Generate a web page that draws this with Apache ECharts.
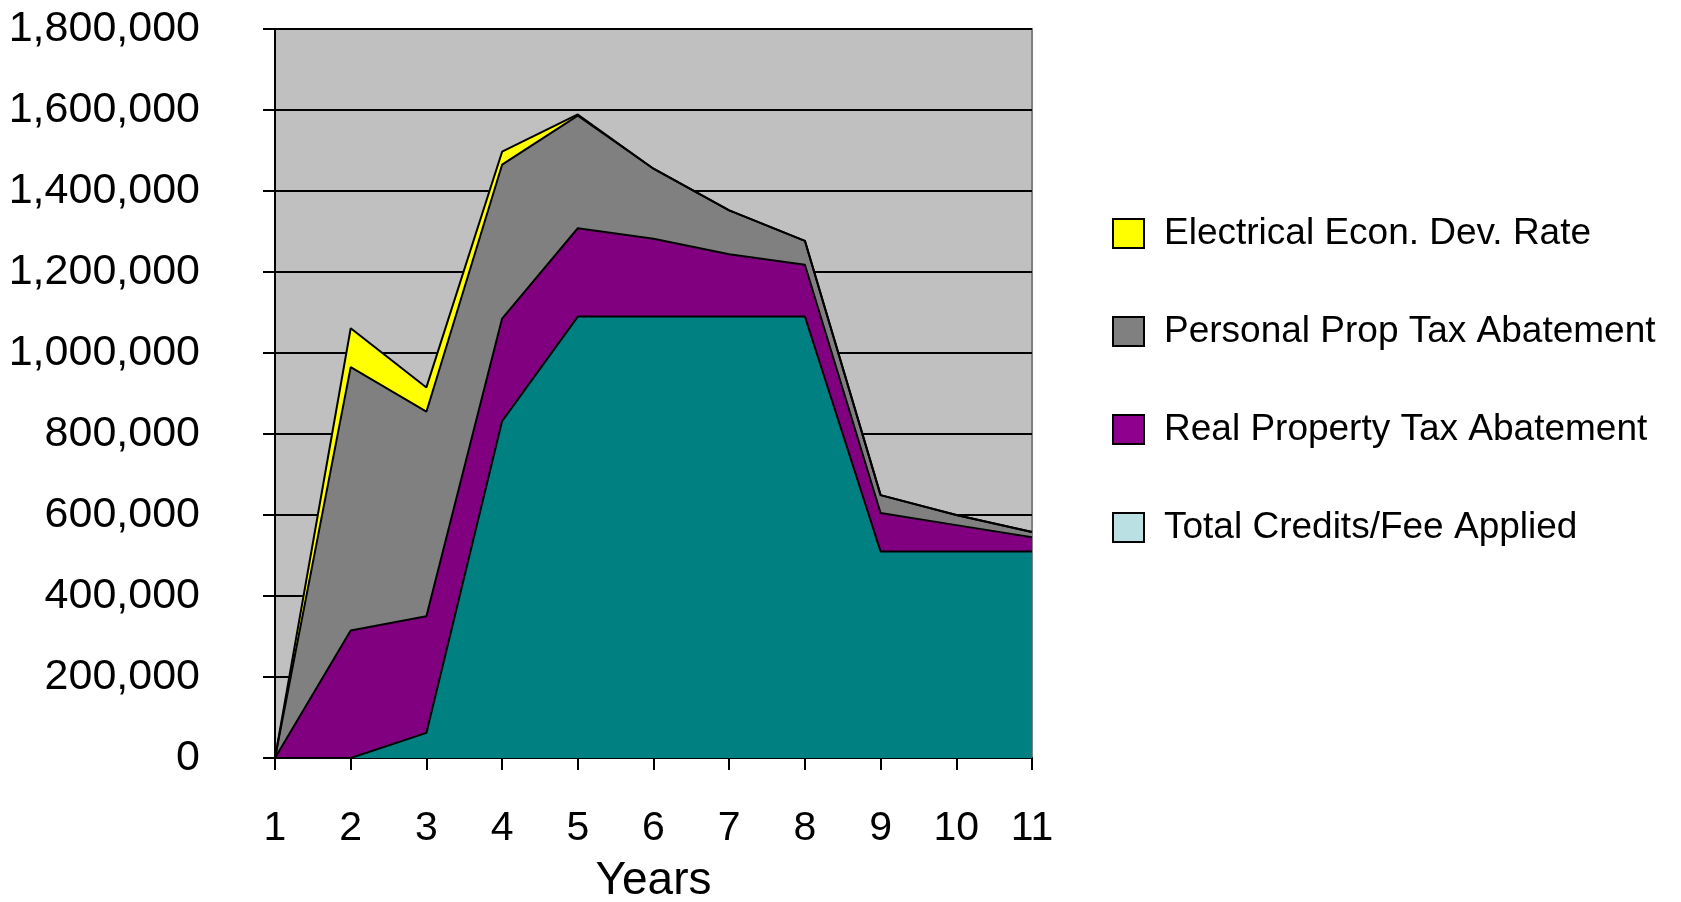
<!DOCTYPE html>
<html>
<head>
<meta charset="utf-8">
<script src="https://cdn.jsdelivr.net/npm/echarts@6/dist/echarts.min.js"></script>
<style>
html,body{margin:0;padding:0;background:#fff;}
#chart{width:1681px;height:902px;}
</style>
</head>
<body>
<div id="chart"></div>
<script>
const years = ['1','2','3','4','5','6','7','8','9','10','11'];
const totalCredits = [0, 0, 62000, 832000, 1090000, 1090000, 1090000, 1090000, 510000, 510000, 510000];
const realProperty = [0, 315000, 288000, 253000, 218000, 192000, 154000, 128000, 95000, 65000, 35000];
const personalProp = [0, 650000, 505000, 380000, 278000, 173000, 108000, 59000, 44000, 25000, 13000];
const electrical = [0, 96000, 60000, 32000, 3000, 0, 0, 0, 0, 0, 0];
const seriesNames = ['Total Credits/Fee Applied', 'Real Property Tax Abatement', 'Personal Prop Tax Abatement', 'Electrical Econ. Dev. Rate'];
const legendOrder = ['Electrical Econ. Dev. Rate', 'Personal Prop Tax Abatement', 'Real Property Tax Abatement', 'Total Credits/Fee Applied'];

const FONT = 'Liberation Sans, Arial, sans-serif';
const colors = {
  'Total Credits/Fee Applied': '#008080',
  'Real Property Tax Abatement': '#800080',
  'Personal Prop Tax Abatement': '#808080',
  'Electrical Econ. Dev. Rate': '#FFFF00'
};
const legendColors = {
  'Total Credits/Fee Applied': '#BBE0E3',
  'Real Property Tax Abatement': '#8E008E',
  'Personal Prop Tax Abatement': '#808080',
  'Electrical Econ. Dev. Rate': '#FFFF00'
};
const dataByName = {
  'Total Credits/Fee Applied': totalCredits,
  'Real Property Tax Abatement': realProperty,
  'Personal Prop Tax Abatement': personalProp,
  'Electrical Econ. Dev. Rate': electrical
};

const chart = echarts.init(document.getElementById('chart'), null, {renderer: 'canvas'});
chart.setOption({
  animation: false,
  backgroundColor: '#ffffff',
  grid: {
    left: 275, right: 649, top: 29, bottom: 144,
    outerBoundsMode: 'none',
    containLabel: false,
    show: true, backgroundColor: '#C0C0C0', borderColor: '#808080', borderWidth: 2
  },
  legend: {
    orient: 'vertical',
    left: 1107, top: 210,
    itemWidth: 31, itemHeight: 29, itemGap: 61,
    icon: 'rect',
    itemStyle: {borderColor: '#000', borderWidth: 2},
    textStyle: {fontFamily: FONT, fontSize: 37, lineHeight: 37, color: '#000', padding: [0, 0, 0, 15]},
    data: legendOrder.map(n => ({name: n, itemStyle: {color: legendColors[n], borderColor: '#000', borderWidth: 2}}))
  },
  xAxis: {
    type: 'category',
    data: years,
    boundaryGap: false,
    name: 'Years',
    nameLocation: 'middle',
    nameGap: 100,
    nameTextStyle: {fontFamily: FONT, fontSize: 46, color: '#000', verticalAlign: 'top'},
    axisLine: {show: true, lineStyle: {color: '#000', width: 2}},
    axisTick: {show: true, length: 12, lineStyle: {color: '#000', width: 2}},
    axisLabel: {fontFamily: FONT, fontSize: 41, color: '#000', margin: 50},
    splitLine: {show: false}
  },
  yAxis: {
    type: 'value',
    min: 0, max: 1800000, interval: 200000,
    axisLine: {show: true, lineStyle: {color: '#000', width: 2}},
    axisTick: {show: true, length: 12, lineStyle: {color: '#000', width: 2}},
    axisLabel: {
      fontFamily: FONT, fontSize: 43, color: '#000', margin: 75,
      formatter: v => v.toLocaleString('en-US')
    },
    splitLine: {show: true, lineStyle: {color: '#000', width: 2}}
  },
  series: seriesNames.map(n => ({
    name: n,
    type: 'line',
    stack: 'total',
    data: dataByName[n],
    showSymbol: false,
    symbol: 'none',
    itemStyle: {color: colors[n]},
    lineStyle: {color: '#000', width: 2},
    areaStyle: {color: colors[n], opacity: 1}
  }))
});
</script>
</body>
</html>
